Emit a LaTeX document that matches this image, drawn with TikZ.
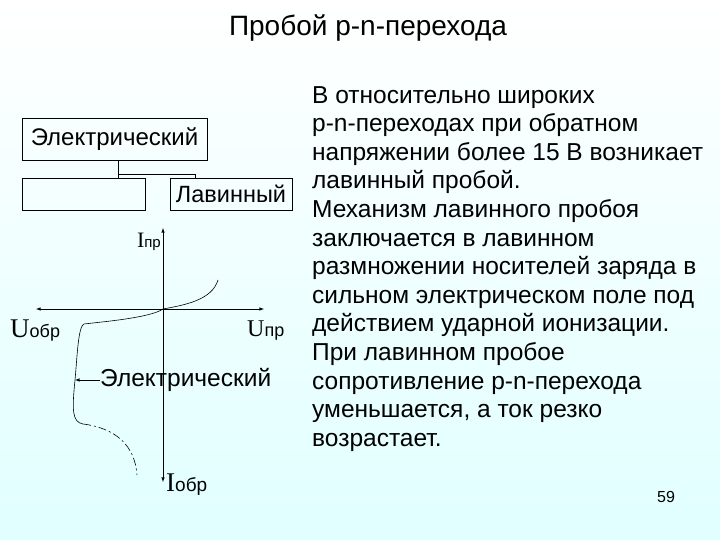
\documentclass[tikz,border=0pt]{standalone}
\usepackage{fontspec}
\setmainfont{Liberation Sans}
\newfontfamily\serifu{Liberation Serif}
\begin{document}
\begin{tikzpicture}[x=1pt,y=-1pt,
  bx/.style={draw,line width=0.6pt,inner sep=0pt},
  ax/.style={line width=0.6pt,-latex}]
\shade[top color=white,bottom color=cyan!12!white] (0,0) rectangle (720,540);
\useasboundingbox (0,0) rectangle (720,540);
\node[font=\fontsize{28}{28}\selectfont] (title) at (368,28) {Пробой p-n-перехода};
\node[bx,minimum width=185,minimum height=42,font=\fontsize{24}{24}\selectfont] (el) at (114.5,139) {Электрический};
\node[bx,minimum width=123,minimum height=32] (em) at (83.5,194) {};
\node[bx,minimum width=122,minimum height=32,font=\fontsize{23.5}{23.5}\selectfont] (lav) at (231,194) {Лавинный};
\coordinate (j) at (118,174);
\draw[line width=0.6pt] (el.south -| j) -- (em.north -| j);
\draw[line width=0.6pt] (j) -- (195,174) -- (lav.north -| 195,0);
\coordinate (o) at (163,309);
\coordinate (yt) at (163,228);
\coordinate (yb) at (163,482);
\coordinate (xl) at (36,309);
\coordinate (xr) at (264,309);
\draw[ax] (o) -- (yt);
\draw[ax] (o) -- (yb);
\draw[ax] (o) -- (xl);
\draw[ax] (o) -- (xr);
\node[anchor=east,inner sep=0pt] (ipr) at (161,242) {\serifu\fontsize{22}{22}\selectfont I\rmfamily\fontsize{15}{15}\selectfont пр};
\node[anchor=west,inner sep=0pt] (uobr) at (10,331) {\serifu\fontsize{27}{27}\selectfont U\rmfamily\fontsize{18}{18}\selectfont обр};
\node[anchor=west,inner sep=0pt] (upr) at (247,331) {\serifu\fontsize{24}{24}\selectfont U\rmfamily\fontsize{18}{18}\selectfont пр};
\node[anchor=west,inner sep=0pt] (iobr) at (166,485) {\serifu\fontsize{27}{27}\selectfont I\rmfamily\fontsize{19}{19}\selectfont обр};
\draw[line width=0.6pt] (o) .. controls (185,305) and (212,300) .. (218,280);
\draw[line width=0.6pt] (o) .. controls (150,318) and (100,322) .. (84,324)
  .. controls (78,326) and (77,360) .. (75,380) .. controls (72,410) and (72,422) .. (83,424);
\draw[line width=0.6pt,dash pattern=on 8pt off 3pt on 2pt off 3pt] (83,424) .. controls (115,428) and (135,445) .. (137,475);
\node[anchor=west,inner sep=0pt,font=\fontsize{24.5}{24.5}\selectfont] (elc) at (100,380) {Электрический};
\draw[line width=0.6pt,-latex] (elc.west) -- (75,380);
\node[anchor=north west,align=left,inner sep=0pt,font=\fontsize{24.5}{28.6}\selectfont] (txt) at (312,86) {В относительно широких\\p-n-переходах при обратном\\напряжении более 15 В возникает\\лавинный пробой.\\Механизм лавинного пробоя\\заключается в лавинном\\размножении носителей заряда в\\сильном электрическом поле под\\действием ударной ионизации.\\При лавинном пробое\\сопротивление p-n-перехода\\уменьшается, а ток резко\\возрастает.};
\node[font=\fontsize{16}{16}\selectfont] (pg) at (666,497) {59};
\end{tikzpicture}
\end{document}
